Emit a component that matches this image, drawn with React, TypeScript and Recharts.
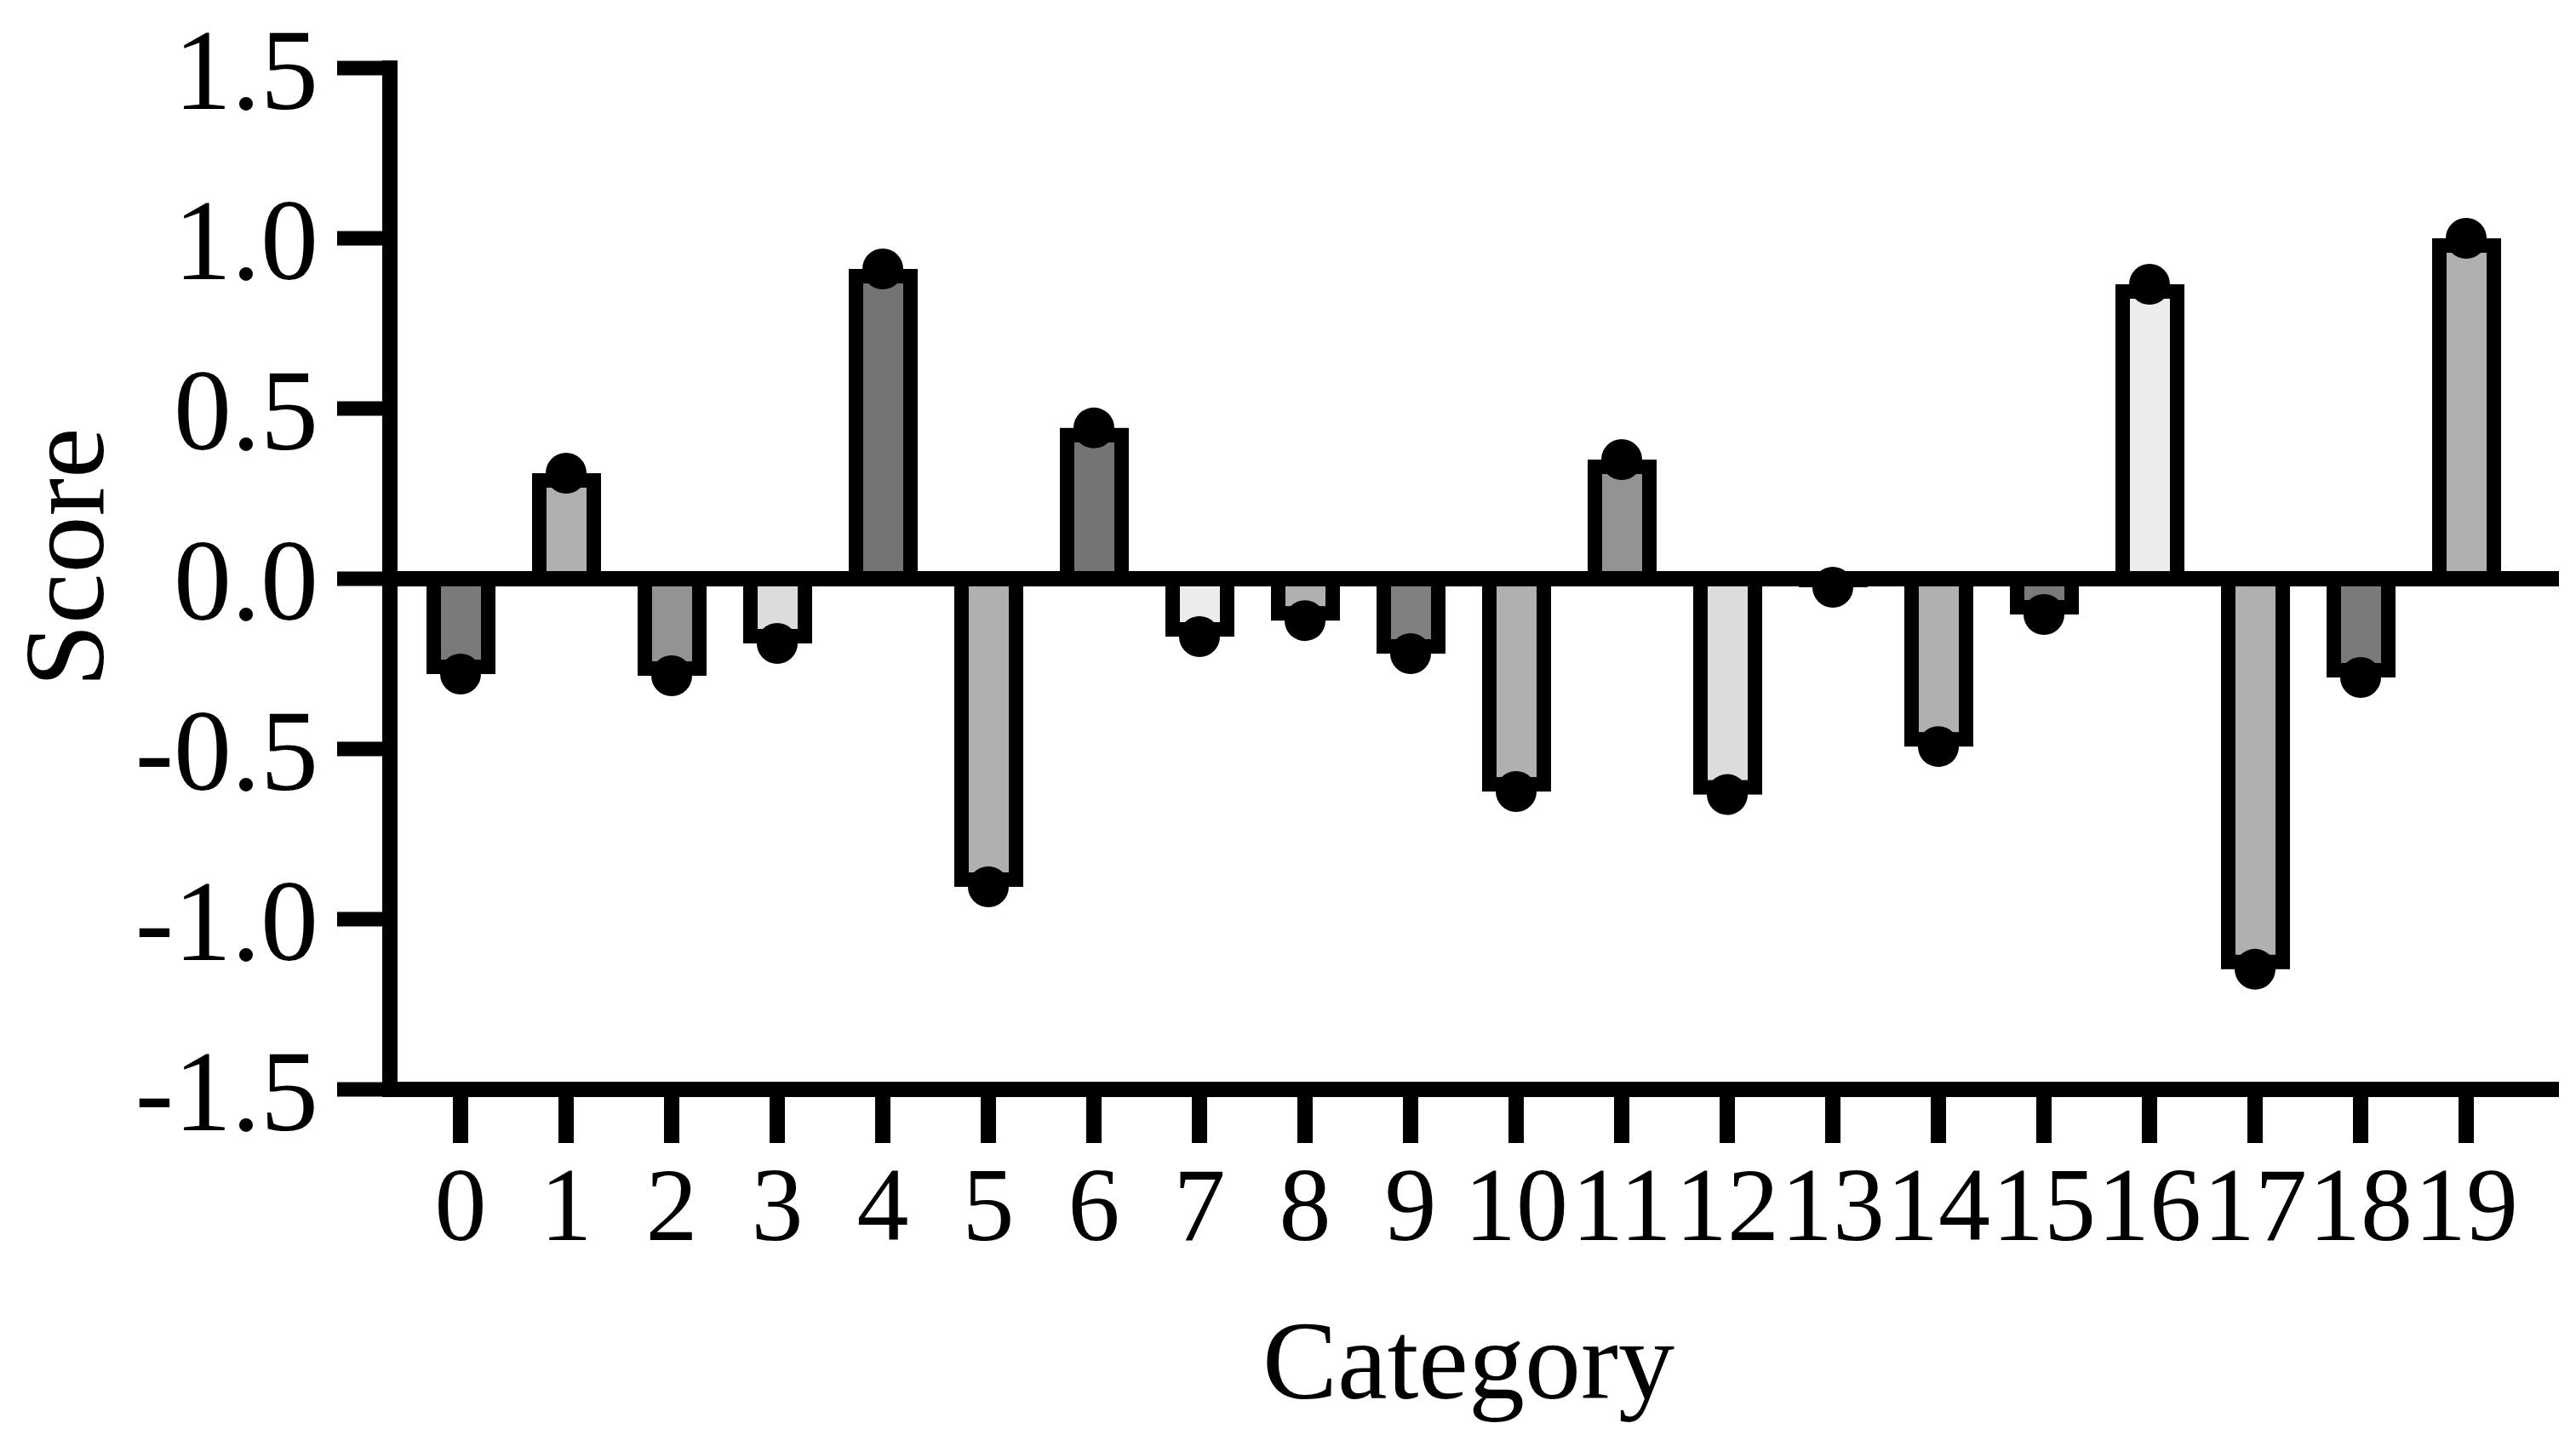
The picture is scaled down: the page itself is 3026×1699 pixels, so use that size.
import React from 'react';
import { ComposedChart, Bar, Line, XAxis, YAxis, ReferenceLine, Label } from 'recharts';

const categories = ['0','1','2','3','4','5','6','7','8','9','10','11','12','13','14','15','16','17','18','19'];
const scores = [-0.28, 0.31, -0.285, -0.19, 0.91, -0.905, 0.443, -0.17, -0.123, -0.22, -0.625, 0.35, -0.634, -0.025, -0.493, -0.105, 0.865, -1.147, -0.29, 1.0];
const yTicks = [-1.5, -1.0, -0.5, 0, 0.5, 1.0, 1.5];

const palette = ['#7a7a7a','#b0b0b0','#939393','#dcdcdc','#747474','#b0b0b0','#747474','#ececec','#b0b0b0','#808080','#b0b0b0','#939393','#dcdcdc','#b0b0b0','#b0b0b0','#7a7a7a','#ececec','#b0b0b0','#7a7a7a','#b0b0b0'];

const data = categories.map((c, i) => ({ category: c, score: scores[i] }));

const FONT = '"Liberation Serif", "Times New Roman", serif';
const SW = 17;

const BarShape = (props: any) => {
  const { x, y, width, height, index, payload } = props;
  const top = Math.min(y, y + height);
  const bot = Math.max(y, y + height);
  const v = payload.score;
  const fill = palette[index % palette.length];
  let ry: number, rh: number;
  if (v >= 0) {
    ry = top + SW / 2;
    rh = bot - ry;
  } else {
    ry = top;
    rh = bot - SW / 2 - top;
  }
  if (rh < 0.5) rh = 0.5;
  return <rect x={x + SW / 2} y={ry} width={width - SW} height={rh} fill={fill} stroke="#000" strokeWidth={SW} />;
};

const fmt = (v: number) => {
  const s = Math.abs(v).toFixed(1);
  return v < 0 ? '-' + s : s;
};

const ScoreLabel = (props: any) => {
  const vb = props.viewBox || {};
  const cx = vb.x + 121;
  const cy = vb.y + vb.height / 2 - 25;
  return (
    <text x={cx} y={cy} transform={`rotate(-90 ${cx} ${cy})`} textAnchor="middle" fontFamily={FONT} fontSize={134} fill="#000">Score</text>
  );
};

const CategoryLabel = (props: any) => {
  const vb = props.viewBox || {};
  const cx = vb.x + vb.width / 2 - 7;
  const cy = vb.y + 363;
  return (
    <text x={cx} y={cy} textAnchor="middle" fontFamily={FONT} fontSize={132} fill="#000">Category</text>
  );
};

export default function App() {
  return (
    <div style={{ position: 'absolute', left: 0, top: 0, background: '#fff' }}>
      <ComposedChart width={3026} height={1699} data={data} margin={{ top: 80, right: 20, bottom: 0, left: 0 }}>
        <XAxis
          dataKey="category"
          type="category"
          interval={0}
          height={419}
          padding={{ left: 21, right: 47 }}
          axisLine={{ stroke: '#000', strokeWidth: 18 }}
          tickLine={{ stroke: '#000', strokeWidth: 18 }}
          tickSize={63}
          tickMargin={27}
          tick={{ fill: '#000', fontSize: 122, fontFamily: FONT }}
        >
          <Label content={<CategoryLabel />} />
        </XAxis>
        <YAxis
          type="number"
          domain={[-1.5, 1.5]}
          ticks={yTicks}
          width={458}
          allowDataOverflow
          axisLine={{ stroke: '#000', strokeWidth: 18, strokeLinecap: 'square' }}
          tickLine={{ stroke: '#000', strokeWidth: 17 }}
          tickSize={62}
          tickMargin={22}
          tickFormatter={fmt}
          tick={{ fill: '#000', fontSize: 136, fontFamily: FONT }}
        >
          <Label content={<ScoreLabel />} />
        </YAxis>
        <Bar dataKey="score" barSize={81} shape={<BarShape />} isAnimationActive={false} />
        <ReferenceLine y={0} stroke="#000" strokeWidth={18} />
        <Line dataKey="score" stroke="none" strokeWidth={0} dot={{ r: 24, fill: '#000', stroke: 'none' }} activeDot={false} isAnimationActive={false} />
      </ComposedChart>
    </div>
  );
}
